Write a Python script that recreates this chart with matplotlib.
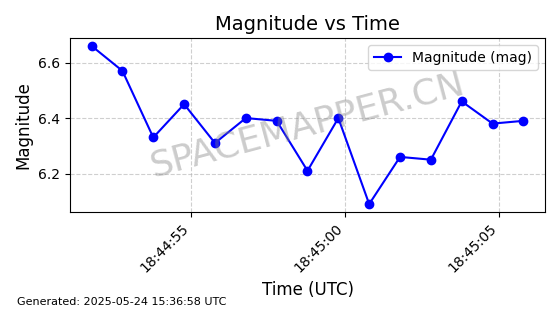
import matplotlib
matplotlib.use("Agg")
import matplotlib.pyplot as plt
import matplotlib.dates as mdates
import pandas as pd

start_time = "2025-05-24 18:44:51.78"
offsets_s = [0, 1, 2, 3, 4, 5, 6, 7, 8, 9, 10, 11, 12, 13, 14]
magnitudes = [6.66, 6.57, 6.33, 6.45, 6.31, 6.40, 6.39, 6.21, 6.40, 6.09,
              6.26, 6.25, 6.46, 6.38, 6.39]

times = pd.Timestamp(start_time) + pd.to_timedelta(offsets_s, unit="s")

fig = plt.figure(figsize=(5.6, 3.14), dpi=100)
ax = fig.add_axes([70/560, 1-212/314, 475/560, 174/314])
ax.plot(times, magnitudes, marker="o", color="blue", label="Magnitude (mag)")
ax.set_title("Magnitude vs Time", fontsize=14)
ax.set_xlabel("Time (UTC)", fontsize=12)
ax.set_ylabel("Magnitude", fontsize=12)
ax.grid(True, linestyle="--", alpha=0.6)
ax.legend(loc="upper right")
ax.xaxis.set_major_locator(mdates.SecondLocator(bysecond=range(0, 60, 5)))
ax.xaxis.set_major_formatter(mdates.DateFormatter("%H:%M:%S"))
for lbl in ax.get_xticklabels():
    lbl.set_rotation(45)
    lbl.set_ha("right")
ax.text(0.5, 0.5, "SPACEMAPPER.CN", transform=ax.transAxes, fontsize=26,
        color="gray", alpha=0.4, ha="center", va="center", rotation=15)
fig.text(17/560, 1-305/314, "Generated: 2025-05-24 15:36:58 UTC", fontsize=8,
         ha="left", va="baseline")
fig.savefig("out.png", dpi=100)
